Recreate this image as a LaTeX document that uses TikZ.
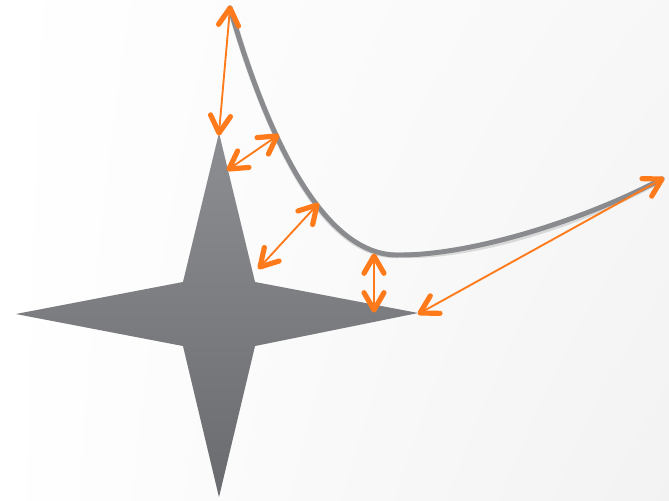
\documentclass[tikz,border=0pt]{standalone}
\usepackage{tikz}
\usetikzlibrary{calc,shadings}

\definecolor{railgray}{HTML}{8A8B8F}
\definecolor{startop}{HTML}{8D8E92}
\definecolor{starbot}{HTML}{6A6B6F}
\definecolor{gaporange}{HTML}{FF7A1A}

\begin{document}
\begin{tikzpicture}[
  x=0.03cm, y=-0.03cm,
  gap/.style={draw=gaporange, line width=1.6pt},
  barbhead/.style={draw=gaporange, line width=4.4pt, line cap=round, line join=round},
  rail/.style={draw=railgray, line width=4.2pt, line cap=round},
  softshadow/.style={draw=black, opacity=0.12, line width=5pt, line cap=round}
]
\useasboundingbox (0,0) rectangle (669,500);
\shade[upper left=white, lower left=white, upper right=black!3, lower right=black!5]
  (0,0) rectangle (669,500);

% star
\coordinate (tipN) at (219,133);
\coordinate (tipE) at (418,313);
\coordinate (tipS) at (219,497);
\coordinate (tipW) at (16,314);
\coordinate (cornNE) at (255,282);
\coordinate (cornSE) at (255,346);
\coordinate (cornSW) at (183,346);
\coordinate (cornNW) at (183,282);
\fill[black, opacity=0.08, xshift=0.8pt, yshift=-1.5pt]
  (tipN) -- (cornNE) -- (tipE) -- (cornSE) -- (tipS) -- (cornSW) -- (tipW) -- (cornNW) -- cycle;
\shade[top color=startop, bottom color=starbot]
  (tipN) -- (cornNE) -- (tipE) -- (cornSE) -- (tipS) -- (cornSW) -- (tipW) -- (cornNW) -- cycle;

% curve
\coordinate (railstart) at (230,8);
\coordinate (railbottom) at (400,255);
\coordinate (railend) at (662,179);
\draw[softshadow, xshift=0.8pt, yshift=-2.4pt] (railstart) .. controls (265,130) and (322,258) .. (railbottom)
  .. controls (470,255) and (580,222) .. (railend);
\draw[rail] (railstart) .. controls (265,130) and (322,258) .. (railbottom)
  .. controls (470,255) and (580,222) .. (railend);

% gaps
\coordinate (on1) at (277,136);
\coordinate (on2) at (317,205);
\coordinate (on3) at (374,256);
\coordinate (edge1) at (229,169);
\coordinate (edge2) at (260,267);
\coordinate (edge3) at (374,310);
\coordinate (edge4) at (420,313);

\foreach \a/\b in {railstart/tipN, on1/edge1, on2/edge2, on3/edge3, railend/edge4} {
  \draw[gap] (\a) -- (\b);
  \draw[barbhead] ($(\a)!6mm!30:(\b)$) -- (\a) -- ($(\a)!6mm!-30:(\b)$);
  \draw[barbhead] ($(\b)!6mm!30:(\a)$) -- (\b) -- ($(\b)!6mm!-30:(\a)$);
}
\end{tikzpicture}
\end{document}
